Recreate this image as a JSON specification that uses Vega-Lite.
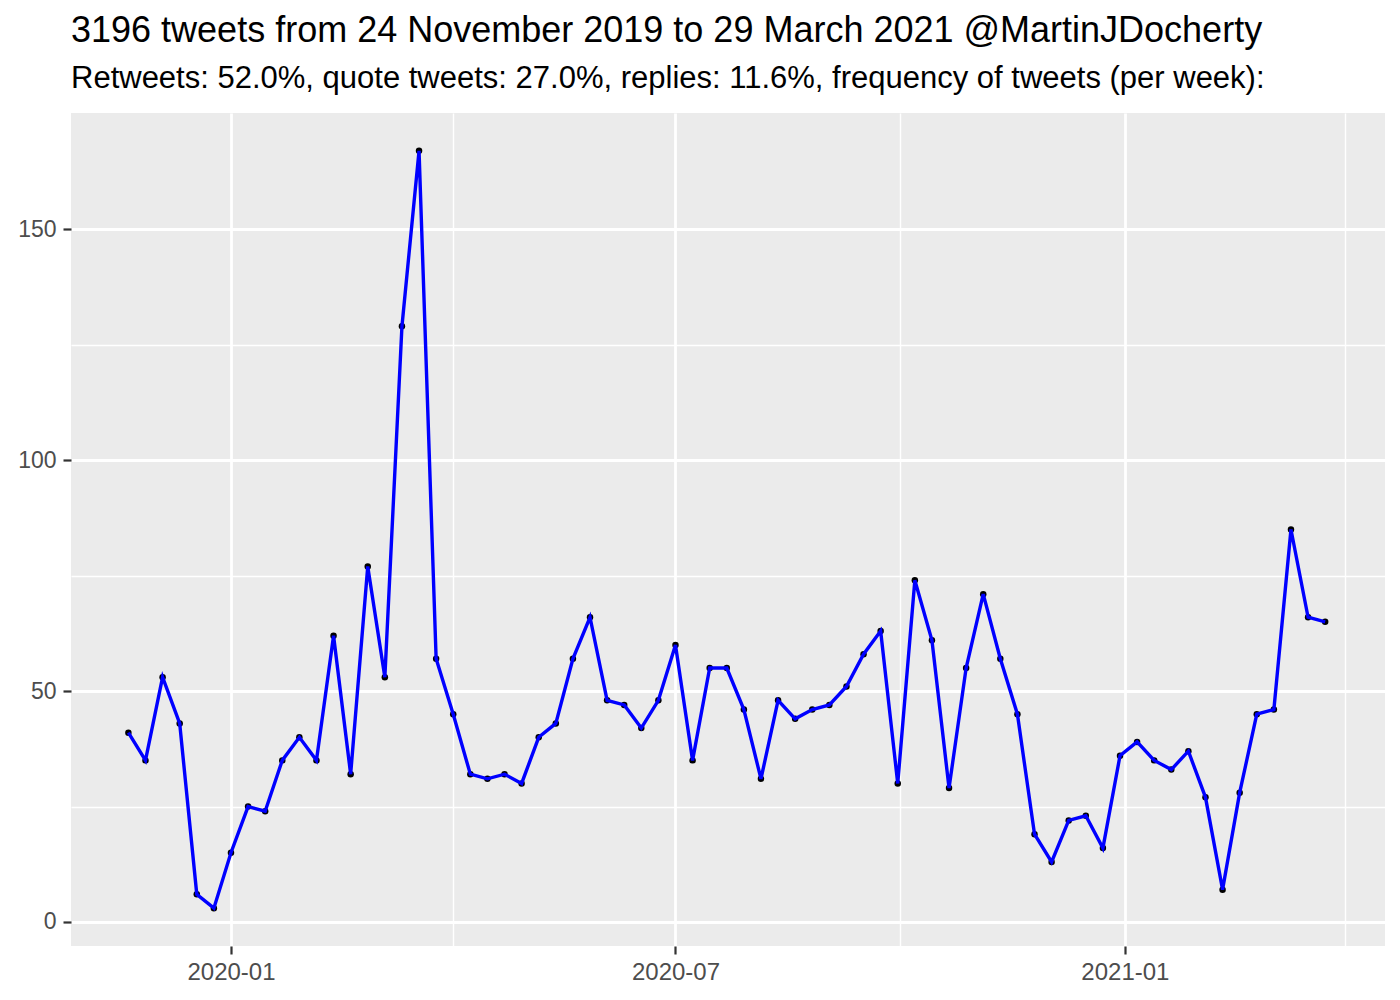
{
  "$schema": "https://vega.github.io/schema/vega-lite/v6.json",
  "width": 1314,
  "height": 833,
  "autosize": {"type": "none"},
  "padding": {"left": 71, "top": 113, "right": 15, "bottom": 54},
  "background": "white",
  "title": {
    "text": "3196 tweets from 24 November 2019 to 29 March 2021 @MartinJDocherty",
    "subtitle": "Retweets: 52.0%, quote tweets: 27.0%, replies: 11.6%, frequency of tweets (per week):",
    "anchor": "start",
    "frame": "group",
    "font": "Liberation Sans",
    "subtitleFont": "Liberation Sans",
    "fontSize": 36,
    "subtitleFontSize": 31,
    "fontWeight": "normal",
    "color": "black",
    "subtitleColor": "black",
    "offset": 18,
    "subtitlePadding": 14
  },
  "config": {
    "view": {"fill": "#EBEBEB", "stroke": null},
    "font": "Liberation Sans"
  },
  "data": {
    "values": [
      {"date": "2019-11-20", "n": 41},
      {"date": "2019-11-27", "n": 35},
      {"date": "2019-12-04", "n": 53},
      {"date": "2019-12-11", "n": 43},
      {"date": "2019-12-18", "n": 6},
      {"date": "2019-12-25", "n": 3},
      {"date": "2020-01-01", "n": 15},
      {"date": "2020-01-08", "n": 25},
      {"date": "2020-01-15", "n": 24},
      {"date": "2020-01-22", "n": 35},
      {"date": "2020-01-29", "n": 40},
      {"date": "2020-02-05", "n": 35},
      {"date": "2020-02-12", "n": 62},
      {"date": "2020-02-19", "n": 32},
      {"date": "2020-02-26", "n": 77},
      {"date": "2020-03-04", "n": 53},
      {"date": "2020-03-11", "n": 129},
      {"date": "2020-03-18", "n": 167},
      {"date": "2020-03-25", "n": 57},
      {"date": "2020-04-01", "n": 45},
      {"date": "2020-04-08", "n": 32},
      {"date": "2020-04-15", "n": 31},
      {"date": "2020-04-22", "n": 32},
      {"date": "2020-04-29", "n": 30},
      {"date": "2020-05-06", "n": 40},
      {"date": "2020-05-13", "n": 43},
      {"date": "2020-05-20", "n": 57},
      {"date": "2020-05-27", "n": 66},
      {"date": "2020-06-03", "n": 48},
      {"date": "2020-06-10", "n": 47},
      {"date": "2020-06-17", "n": 42},
      {"date": "2020-06-24", "n": 48},
      {"date": "2020-07-01", "n": 60},
      {"date": "2020-07-08", "n": 35},
      {"date": "2020-07-15", "n": 55},
      {"date": "2020-07-22", "n": 55},
      {"date": "2020-07-29", "n": 46},
      {"date": "2020-08-05", "n": 31},
      {"date": "2020-08-12", "n": 48},
      {"date": "2020-08-19", "n": 44},
      {"date": "2020-08-26", "n": 46},
      {"date": "2020-09-02", "n": 47},
      {"date": "2020-09-09", "n": 51},
      {"date": "2020-09-16", "n": 58},
      {"date": "2020-09-23", "n": 63},
      {"date": "2020-09-30", "n": 30},
      {"date": "2020-10-07", "n": 74},
      {"date": "2020-10-14", "n": 61},
      {"date": "2020-10-21", "n": 29},
      {"date": "2020-10-28", "n": 55},
      {"date": "2020-11-04", "n": 71},
      {"date": "2020-11-11", "n": 57},
      {"date": "2020-11-18", "n": 45},
      {"date": "2020-11-25", "n": 19},
      {"date": "2020-12-02", "n": 13},
      {"date": "2020-12-09", "n": 22},
      {"date": "2020-12-16", "n": 23},
      {"date": "2020-12-23", "n": 16},
      {"date": "2020-12-30", "n": 36},
      {"date": "2021-01-06", "n": 39},
      {"date": "2021-01-13", "n": 35},
      {"date": "2021-01-20", "n": 33},
      {"date": "2021-01-27", "n": 37},
      {"date": "2021-02-03", "n": 27},
      {"date": "2021-02-10", "n": 7},
      {"date": "2021-02-17", "n": 28},
      {"date": "2021-02-24", "n": 45},
      {"date": "2021-03-03", "n": 46},
      {"date": "2021-03-10", "n": 85},
      {"date": "2021-03-17", "n": 66},
      {"date": "2021-03-24", "n": 65}
    ]
  },
  "encoding": {
    "x": {
      "field": "date",
      "type": "temporal",
      "title": null,
      "scale": {
        "type": "utc",
        "domain": [
          {"year": 2019, "month": 10, "date": 27, "hours": 12, "utc": true},
          {"year": 2021, "month": 4, "date": 17, "hours": 12, "utc": true}
        ]
      },
      "axis": {
        "values": [
          {"year": 2020, "month": 1, "date": 1, "utc": true},
          {"year": 2020, "month": 4, "date": 1, "utc": true},
          {"year": 2020, "month": 7, "date": 1, "utc": true},
          {"year": 2020, "month": 10, "date": 1, "utc": true},
          {"year": 2021, "month": 1, "date": 1, "utc": true},
          {"year": 2021, "month": 4, "date": 1, "utc": true}
        ],
        "labelExpr": "utcmonth(datum.value) % 6 == 0 ? utcFormat(datum.value, '%Y-%m') : ''",
        "domain": false,
        "grid": true,
        "gridColor": "white",
        "gridWidth": {"condition": {"test": "utcmonth(datum.value) % 6 == 0", "value": 2.8}, "value": 1.4},
        "tickColor": "#333333",
        "tickWidth": 2.2,
        "tickSize": 8,
        "tickOpacity": {"condition": {"test": "utcmonth(datum.value) % 6 == 0", "value": 1}, "value": 0},
        "labelColor": "#4D4D4D",
        "labelFontSize": 24,
        "labelPadding": 6,
        "labelFlush": false,
        "labelOverlap": false
      }
    },
    "y": {
      "field": "n",
      "type": "quantitative",
      "title": null,
      "scale": {"domain": [-5.2, 175.2], "nice": false, "zero": false},
      "axis": {
        "values": [0, 25, 50, 75, 100, 125, 150],
        "labelExpr": "datum.value % 50 == 0 ? datum.label : ''",
        "domain": false,
        "grid": true,
        "gridColor": "white",
        "gridWidth": {"condition": {"test": "datum.value % 50 == 0", "value": 2.8}, "value": 1.4},
        "tickColor": "#333333",
        "tickWidth": 2.2,
        "tickSize": 8,
        "tickOpacity": {"condition": {"test": "datum.value % 50 == 0", "value": 1}, "value": 0},
        "labelColor": "#4D4D4D",
        "labelFontSize": 23,
        "labelPadding": 7,
        "labelFlush": false,
        "labelOverlap": false
      }
    }
  },
  "layer": [
    {"mark": {"type": "point", "filled": true, "color": "black", "opacity": 1, "size": 42}},
    {"mark": {"type": "line", "color": "#0000FF", "strokeWidth": 3.4}}
  ]
}
